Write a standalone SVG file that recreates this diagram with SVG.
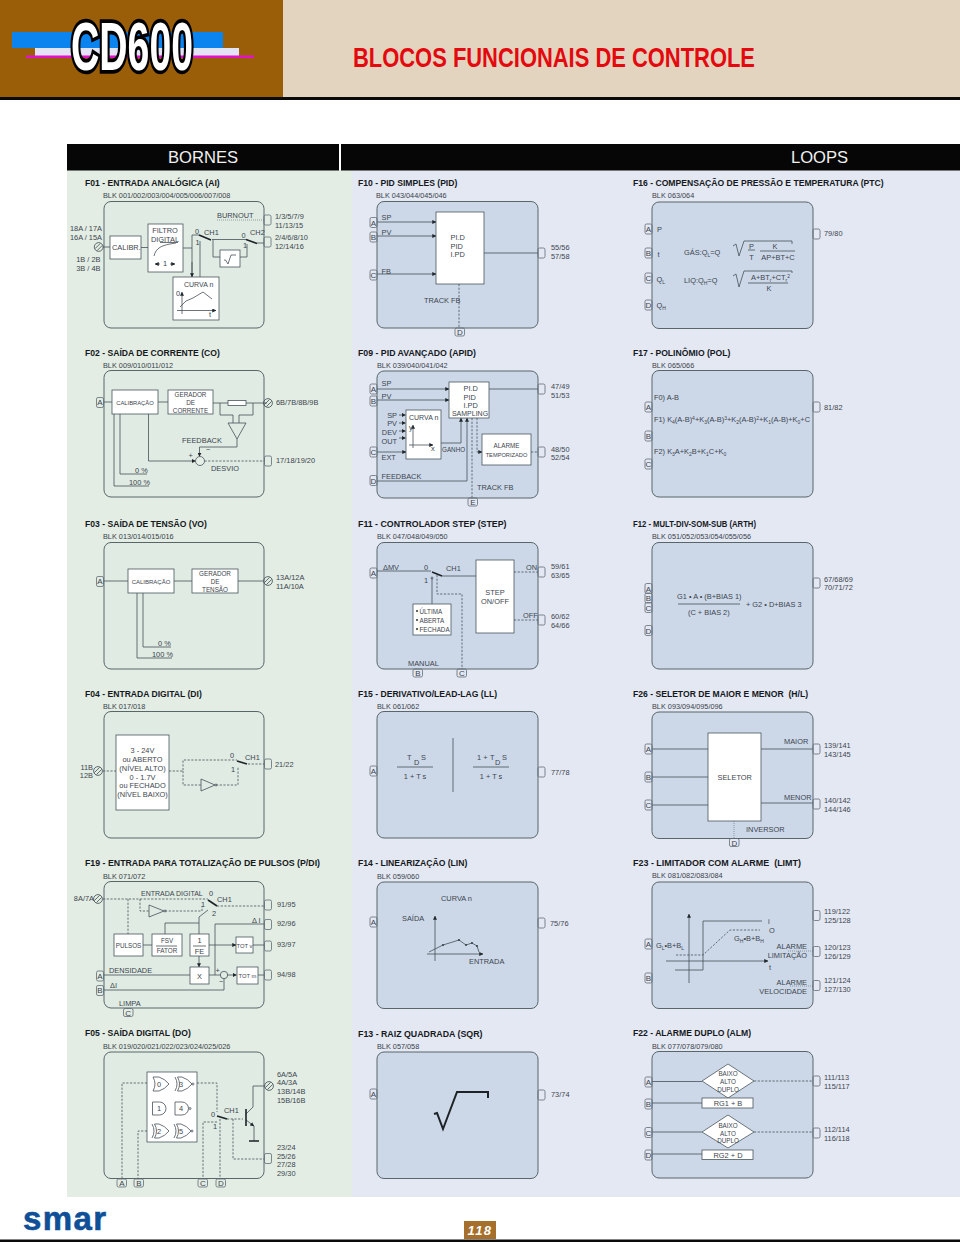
<svg xmlns="http://www.w3.org/2000/svg" width="960" height="1242" viewBox="0 0 960 1242" font-family="'Liberation Sans', Arial, sans-serif">
<style>
text{fill:#3c454e;font-size:7.4px}
.h{fill:#15181c;font-size:8.6px;font-weight:bold;white-space:pre}
.b{fill:#39424a;font-size:7.3px}
.c{text-anchor:middle}
.e{text-anchor:end}
.m{font-size:7px}
.n{font-size:6.3px}
.k{font-size:5.8px}
.p{font-size:8px;text-anchor:middle}
.f{fill:#e0ebe3;stroke:#58666a;stroke-width:1}
.g{fill:#ccd8e8;stroke:#58666a;stroke-width:1}
.w{fill:#fff;stroke:#4a555c;stroke-width:.8}
.l{fill:none;stroke:#465159;stroke-width:.8}
.d{fill:none;stroke:#465159;stroke-width:.8;stroke-dasharray:2.2 1.5}
.o{fill:none;stroke:#5c6870;stroke-width:.6;stroke-dasharray:1 1}
.a{marker-end:url(#arrow)}
.t{fill:none;stroke:#1d2226;stroke-width:1.6}
.port{fill:none;stroke:#5e6b74;stroke-width:.8}
.screw{fill:none;stroke:#3f4a52;stroke-width:.8}
.sub{font-size:5px;baseline-shift:-1.6px}
.sup{font-size:5px;baseline-shift:2.4px}
.dot{fill:#2b3238}
</style>
<defs>
<marker id="arrow" viewBox="0 0 6 6" refX="5.6" refY="3" markerWidth="4" markerHeight="4" markerUnits="userSpaceOnUse" orient="auto"><path d="M0 0L6 3L0 6Z" fill="#1f262c"/></marker>
<rect id="port" width="7" height="10" rx="1.6"/>
<rect id="portv" width="9.5" height="8" rx="1.6"/>
<g id="screw"><circle r="4.4"/><path d="M-3.6 1.6L1.6 -3.6M-1.6 3.6L3.6 -1.6"/></g>
<path id="gor" d="M0 0H6Q12 2 16 7Q12 12 6 14H0Q4 7 0 0Z"/>
<path id="gxor" d="M1.5 0H6Q12 2 16 7Q12 12 6 14H1.5Q5.5 7 1.5 0ZM-1 0Q3 7 -1 14"/>
<path id="gand" d="M0 0H7A6.5 6.5 0 0 1 7 13H0Z"/>
</defs>

<!-- page header -->
<g id="header">
<rect width="283" height="97" fill="#9a5e08"/>
<rect x="283" width="677" height="97" fill="#e3d4bf"/>
<rect y="97" width="960" height="3" fill="#0a0a0a"/>
<rect x="12" y="32" width="211" height="16" fill="#0b84f0"/>
<rect x="35" y="48" width="204" height="8" fill="#e3e3f6"/>
<rect x="26" y="55.5" width="228" height="2.5" fill="#e213c4"/>
<text x="71" y="69.5" textLength="122" lengthAdjust="spacingAndGlyphs" style="font-size:69px;font-weight:bold;fill:#fff;stroke:#000;stroke-width:7.5px;paint-order:stroke">CD600</text>
<text x="353" y="67" textLength="402" lengthAdjust="spacingAndGlyphs" style="font-size:28px;font-weight:bold;fill:#e4080f">BLOCOS FUNCIONAIS DE CONTROLE</text>
</g>

<!-- column backgrounds and titles -->
<g id="columns">
<rect x="67" y="170" width="285" height="1027" fill="#e3ede4"/>
<rect x="352" y="170" width="608" height="1027" fill="#e4e8f3"/>
<rect x="67" y="144" width="272" height="26.5" fill="#060606"/>
<rect x="341" y="144" width="619" height="26.5" fill="#060606"/>
<text x="203" y="163" text-anchor="middle" style="font-size:16.6px;fill:#f0f0f0">BORNES</text>
<text x="819.5" y="163" text-anchor="middle" style="font-size:16.6px;fill:#f0f0f0">LOOPS</text>
</g>

<!-- block frames -->
<g id="frames">
<rect class="f" x="104" y="201.5" width="160" height="126.5" rx="7"/>
<rect class="f" x="104" y="370.5" width="160" height="126.5" rx="7"/>
<rect class="f" x="104" y="542.5" width="160" height="126.5" rx="7"/>
<rect class="f" x="104" y="711.5" width="160" height="126.5" rx="7"/>
<rect class="f" x="104" y="881.5" width="160" height="126.5" rx="7"/>
<rect class="f" x="104" y="1052" width="160" height="126.5" rx="7"/>
<rect class="g" x="377" y="201.5" width="161" height="126.5" rx="7"/>
<rect class="g" x="377" y="371" width="161" height="127" rx="7"/>
<rect class="g" x="377" y="542.5" width="161" height="126.5" rx="7"/>
<rect class="g" x="377" y="711.5" width="161" height="126.5" rx="7"/>
<rect class="g" x="377" y="882" width="161" height="126.5" rx="7"/>
<rect class="g" x="377" y="1052" width="161" height="126.5" rx="7"/>
<rect class="g" x="652" y="202" width="161" height="126.5" rx="7"/>
<rect class="g" x="652" y="370.5" width="161" height="126.5" rx="7"/>
<rect class="g" x="652" y="542.5" width="161" height="126.5" rx="7"/>
<rect class="g" x="652" y="712" width="161" height="126.5" rx="7"/>
<rect class="g" x="652" y="882" width="161" height="126.5" rx="7"/>
<rect class="g" x="652" y="1051.5" width="161" height="126.5" rx="7"/>
</g>

<!-- wiring between the inner blocks -->
<g id="connectors">
<!-- F01 -->
<path class="l" d="M103 247H110M141 247.5H148M183 248H192"/>
<path class="l" d="M192 248V235H199M192 248V277"/>
<path class="l a" d="M192 262V277"/>
<path class="l" d="M200 277V241M212 239.5H246M213 239.5V257H220M240 257H247V244M257 243H264"/>
<path class="o" d="M217 220H264"/>
<path class="t" d="M199 235L211 240M246 239.5L257 243.5"/>
<!-- F02 -->
<path class="l" d="M104 402H112M158 402H168M213 403H228M246 403H267"/>
<path class="l" d="M220 403V415H233V423M253 403V415H239V423M237 439V447H199.5"/>
<path class="l a" d="M199.5 447V456.5"/>
<path class="l a" d="M148.5 414V461H195.5"/>
<path class="d" d="M204.5 461H264"/>
<path class="l" d="M120 414V474H147M114 414V486H149"/>
<!-- F03 -->
<path class="l" d="M104 581H128M174 581H192M238 581H263M143 593V647H171M137 593V658H172"/>
<!-- F04 -->
<path class="d" d="M103 771H116M169 771H183V760H237M183 771V785H201M216 785H238V767M248 764H264"/>
<path class="t" d="M237 761L247 764"/>
<!-- F19 -->
<path class="d" d="M103 899H208M128 899V934M140 899V911H149M165 911H202V906M217 906H264"/>
<path class="t" d="M208 900L217 906"/>
<path class="l" d="M199 917L208 910M199 917V934M165 934V923H199M143 945H152"/>
<path class="l a" d="M209 945H236"/>
<path class="l" d="M253 945H264"/>
<path class="l a" d="M199 956V967"/>
<path class="l" d="M104 975H190M209 975H220.5M104 990H224V978.5"/>
<path class="l a" d="M227.5 975H236.5"/>
<path class="l" d="M258 975H264M215 975V924H264"/>
<!-- F05 -->
<path class="d" d="M147 1083H122V1179M147 1131H138V1179M197 1083H217V1112M217 1122H203V1179M220 1119V1179M227 1119H243M233 1119V1159H264"/>
<path class="t" d="M217 1116L227 1119"/>
<path class="l" d="M246 1114L253 1107V1086H264.5"/>
<path class="l a" d="M246 1120L254 1126"/>
<path class="l" d="M254 1126V1141"/>
<path class="t" d="M246 1109V1126M249 1141H259"/>
<!-- F10 -->
<path class="l a" d="M377 222H436"/>
<path class="l a" d="M377 236H436"/>
<path class="l a" d="M377 274H436"/>
<path class="l" d="M484 253H538"/>
<path class="d" d="M459 284V328"/>
<!-- F09 -->
<path class="l a" d="M377 389H449"/>
<path class="l a" d="M377 400H449"/>
<path class="l" d="M489 389H538"/>
<path class="l a" d="M399 415H405.5"/>
<path class="l a" d="M399 423H405.5"/>
<path class="l a" d="M399 431H405.5"/>
<path class="l a" d="M399 438H405.5"/>
<path class="l a" d="M377 452H406"/>
<path class="l a" d="M441 443H461V418"/>
<path class="l a" d="M377 481H467V418"/>
<path class="d" d="M472 418V498M531 452H538"/>
<path class="d a" d="M477 418V452H482"/>
<!-- F11 -->
<path class="l" d="M377 571H431M442 576H477M432 578V604"/>
<path class="t" d="M432 572L442 576"/>
<path class="d" d="M437 575V594H462V669M514 572H538M514 620H538"/>
<!-- F26 -->
<path class="l" d="M652 749H708M652 777H708M652 805H708M761 749H813M761 803H813"/>
<path class="o" d="M734 821V838"/>
<!-- F23 -->
<path class="o" d="M788 951H813M790 986H813"/>
<!-- F22 -->
<path class="l" d="M652 1081.5H702M652 1103H702M652 1132H702M652 1154H702"/>
<path class="d" d="M754 1081H813M754 1132H813"/>
</g>

<g id="F01">
<text class="h" x="85" y="186">F01 - ENTRADA ANALÓGICA (AI)</text>
<text class="b" x="103" y="197.6">BLK 001/002/003/004/005/006/007/008</text>
<text class="e" x="102" y="231">18A / 17A</text>
<text class="e" x="102" y="239.5">16A / 15A</text>
<use href="#screw" class="screw" x="98.7" y="247"/>
<text class="e" x="100.5" y="262">1B / 2B</text>
<text class="e" x="100.5" y="271">3B / 4B</text>
<rect class="w" x="110" y="236" width="31" height="23"/>
<text x="112" y="250">CALIBR.</text>
<rect class="w" x="148" y="224" width="35" height="48"/>
<text class="c" x="165" y="232.5">FILTRO</text>
<text class="c" x="165" y="241.5">DIGITAL</text>
<path class="l" d="M154 256C156 248 161 245 176 243M160 242.5H178"/>
<path class="l a" d="M160 264H155"/>
<path class="l a" d="M170 264H175"/>
<text class="c" x="165" y="266">1</text>
<text x="195" y="233.5">0</text>
<text x="195.5" y="245">1</text>
<text x="204" y="235">CH1</text>
<text x="241.5" y="237.5">0</text>
<text x="243" y="247.5">1</text>
<text x="250" y="235">CH2</text>
<rect class="w" x="220" y="250" width="20" height="17"/>
<path class="l" d="M224 260H225.5L228 264L231 255H236"/>
<text x="217" y="217.5">BURNOUT</text>
<use href="#port" class="port" x="264" y="215"/>
<use href="#port" class="port" x="264" y="237"/>
<text x="275" y="218.5">1/3/5/7/9</text>
<text x="275" y="227.5">11/13/15</text>
<text x="275" y="239.5">2/4/6/8/10</text>
<text x="275" y="248.5">12/14/16</text>
<rect class="w" x="173" y="277" width="46" height="43"/>
<text class="m" x="184" y="286.5">CURVA n</text>
<text x="176" y="296">0</text>
<path class="l a" d="M182 314V292"/>
<path class="l a" d="M177 310.5H216"/>
<path class="l" d="M180 307L186 301L193 298L203 292L212 299"/>
<text x="209" y="316.5">t</text>
</g>

<g id="F02">
<text class="h" x="85" y="356">F02 - SAÍDA DE CORRENTE (CO)</text>
<text class="b" x="103" y="368">BLK 009/010/011/012</text>
<use href="#port" class="port" x="96.5" y="397.5"/>
<text class="p" x="100" y="405">A</text>
<rect class="w" x="112" y="390" width="46" height="24"/>
<text class="c k" x="135" y="404.5">CALIBRAÇÃO</text>
<rect class="w" x="168" y="390" width="45" height="24"/>
<text class="c n" x="190.5" y="397">GERADOR</text>
<text class="c n" x="190.5" y="405">DE</text>
<text class="c n" x="190.5" y="413">CORRENTE</text>
<rect class="w" x="228" y="400.5" width="18" height="5"/>
<path class="l" d="M228 423H246L237 439Z"/>
<circle class="w" cx="200" cy="461" r="4.5" style="fill:#e6efe8"/>
<text x="182" y="442.5">FEEDBACK</text>
<text x="206" y="452">−</text>
<text x="188.5" y="458">+</text>
<text x="211" y="470.5">DESVIO</text>
<text x="135" y="472.5">0 %</text>
<text x="129" y="484.5">100 %</text>
<use href="#screw" class="screw" x="268" y="403"/>
<text x="276" y="405">6B/7B/8B/9B</text>
<use href="#port" class="port" x="264.5" y="456"/>
<text x="276" y="463">17/18/19/20</text>
</g>

<g id="F03">
<text class="h" x="85" y="527">F03 - SAÍDA DE TENSÃO (VO)</text>
<text class="b" x="103" y="539">BLK 013/014/015/016</text>
<use href="#port" class="port" x="96.5" y="576.5"/>
<text class="p" x="100" y="584">A</text>
<rect class="w" x="128" y="569" width="46" height="24"/>
<text class="c" style="font-size:6px" x="151" y="583.5">CALIBRAÇÃO</text>
<rect class="w" x="192" y="569" width="46" height="24"/>
<text class="c n" x="215" y="576">GERADOR</text>
<text class="c n" x="215" y="584">DE</text>
<text class="c n" x="215" y="592">TENSÃO</text>
<use href="#screw" class="screw" x="268" y="581"/>
<text x="276" y="579.5">13A/12A</text>
<text x="276" y="588.5">11A/10A</text>
<text x="158" y="646">0 %</text>
<text x="152" y="657">100 %</text>
</g>

<g id="F04">
<text class="h" x="85" y="697">F04 - ENTRADA DIGITAL (DI)</text>
<text class="b" x="103" y="708.6">BLK 017/018</text>
<use href="#screw" class="screw" x="98" y="771"/>
<text class="e" x="93" y="770">11B</text>
<text class="e" x="93" y="778">12B</text>
<rect class="w" x="116" y="735" width="53" height="75"/>
<text class="c" x="142.5" y="752.5">3 - 24V</text>
<text class="c" x="142.5" y="761.5">ou ABERTO</text>
<text class="c" x="142.5" y="770.5">(NÍVEL ALTO)</text>
<text class="c" x="142.5" y="779.5">0 - 1.7V</text>
<text class="c" x="142.5" y="788">ou FECHADO</text>
<text class="c" x="142.5" y="797">(NÍVEL BAIXO)</text>
<path class="l" d="M201 779V791L215 785Z"/>
<circle class="l" cx="216" cy="785" r="1"/>
<text x="230" y="758">0</text>
<text x="231" y="772">1</text>
<text x="245" y="759.5">CH1</text>
<use href="#port" class="port" x="264.5" y="759"/>
<text x="275" y="767">21/22</text>
</g>

<g id="F19">
<text class="h" x="85" y="866" textLength="235" lengthAdjust="spacingAndGlyphs">F19 - ENTRADA PARA TOTALIZAÇÃO DE PULSOS (P/DI)</text>
<text class="b" x="103" y="878.6">BLK 071/072</text>
<use href="#screw" class="screw" x="98" y="899"/>
<text class="e" x="94" y="901">8A/7A</text>
<text class="m" x="141" y="895.5">ENTRADA DIGITAL</text>
<text x="209" y="896">0</text>
<text x="201" y="906.5">1</text>
<text x="212" y="916">2</text>
<text x="217" y="901.5">CH1</text>
<path class="l" d="M149 905V917L164 911Z"/>
<circle class="l" cx="165" cy="911" r="1"/>
<rect class="w" x="114" y="934" width="29" height="22"/>
<text class="c n" x="128.5" y="948">PULSOS</text>
<rect class="w" x="152" y="934" width="30" height="22"/>
<text class="c n" x="167" y="943">FSV</text>
<path class="l" d="M156 946H177"/>
<text class="c n" x="167" y="953">FATOR</text>
<rect class="w" x="190" y="934" width="19" height="22"/>
<text class="c" x="199.5" y="943">1</text>
<path class="l" d="M193 946H206"/>
<text class="c" x="199.5" y="954">FE</text>
<rect class="w" x="236" y="937" width="17" height="16"/>
<text class="c k" x="244.5" y="947.5">TOT v</text>
<rect class="w" x="190" y="967" width="19" height="17"/>
<text class="c" x="199.5" y="978.5">X</text>
<circle class="l" cx="224" cy="975" r="3.7"/>
<text x="215.5" y="973">+</text>
<text x="219" y="984">−</text>
<rect class="w" x="237" y="967" width="21" height="17"/>
<text class="c k" x="247.5" y="977.5">TOT m</text>
<use href="#port" class="port" x="264.5" y="900"/>
<use href="#port" class="port" x="264.5" y="919.5"/>
<use href="#port" class="port" x="264.5" y="941"/>
<use href="#port" class="port" x="264.5" y="970"/>
<text x="277" y="907">91/95</text>
<text x="277" y="926">92/96</text>
<text x="277" y="947">93/97</text>
<text x="277" y="977">94/98</text>
<text x="252" y="923">Δ I</text>
<text x="109" y="972.5">DENSIDADE</text>
<text x="110" y="987.5">ΔI</text>
<text x="119" y="1005.5">LIMPA</text>
<use href="#port" class="port" x="96.5" y="971"/>
<text class="p" x="100" y="978.5">A</text>
<use href="#port" class="port" x="96.5" y="985.5"/>
<text class="p" x="100" y="993">B</text>
<use href="#portv" class="port" x="123.5" y="1008.5"/>
<text class="p" x="128.2" y="1015.5">C</text>
</g>

<g id="F05">
<text class="h" x="85" y="1036">F05 - SAÍDA DIGITAL (DO)</text>
<text class="b" x="103" y="1048.6">BLK 019/020/021/022/023/024/025/026</text>
<rect class="w" x="147" y="1072" width="50" height="70"/>
<use href="#gor" class="l" x="153" y="1077"/>
<text class="c" x="159" y="1086.5">0</text>
<use href="#gxor" class="l" x="176" y="1077"/>
<circle class="l" cx="193" cy="1084" r="1"/>
<text class="c" x="181" y="1086.5">3</text>
<use href="#gand" class="l" x="152.5" y="1102"/>
<text class="c" x="159" y="1111">1</text>
<use href="#gand" class="l" x="175" y="1102"/>
<circle class="l" cx="190" cy="1108.5" r="1"/>
<text class="c" x="181" y="1111">4</text>
<use href="#gxor" class="l" x="153" y="1124"/>
<text class="c" x="159" y="1133.5">2</text>
<use href="#gxor" class="l" x="175" y="1124"/>
<circle class="l" cx="192" cy="1131" r="1"/>
<text class="c" x="181" y="1133.5">5</text>
<text x="211" y="1117">0</text>
<text x="213" y="1129">1</text>
<text x="224" y="1113">CH1</text>
<use href="#screw" class="screw" x="269" y="1086"/>
<use href="#port" class="port" x="264.5" y="1153.5"/>
<text x="277" y="1076.5">6A/5A</text>
<text x="277" y="1085">4A/3A</text>
<text x="277" y="1094">13B/14B</text>
<text x="277" y="1102.5">15B/16B</text>
<text x="277" y="1149.5">23/24</text>
<text x="277" y="1158.5">25/26</text>
<text x="277" y="1167">27/28</text>
<text x="277" y="1175.5">29/30</text>
<use href="#portv" class="port" x="117" y="1179"/>
<text class="p" x="121.8" y="1186">A</text>
<use href="#portv" class="port" x="134" y="1179"/>
<text class="p" x="138.8" y="1186">B</text>
<use href="#portv" class="port" x="198" y="1179"/>
<text class="p" x="202.8" y="1186">C</text>
<use href="#portv" class="port" x="216" y="1179"/>
<text class="p" x="220.8" y="1186">D</text>
</g>

<g id="F10">
<text class="h" x="358" y="186">F10 - PID SIMPLES (PID)</text>
<text class="b" x="376" y="198">BLK 043/044/045/046</text>
<use href="#port" class="port" x="370" y="217.5"/>
<text class="p" x="373.5" y="225.5">A</text>
<use href="#port" class="port" x="370" y="232"/>
<text class="p" x="373.5" y="240">B</text>
<use href="#port" class="port" x="370" y="270"/>
<text class="p" x="373.5" y="278">C</text>
<text x="381.5" y="220">SP</text>
<text x="381.5" y="234.5">PV</text>
<text x="381.5" y="273.5">FB</text>
<rect class="w" x="436" y="212" width="48" height="72"/>
<text x="450.5" y="239.5">PI.D</text>
<text x="450.5" y="248.5">PID</text>
<text x="450.5" y="257">I.PD</text>
<text x="424" y="303">TRACK FB</text>
<use href="#port" class="port" x="538" y="248"/>
<text x="551" y="250">55/56</text>
<text x="551" y="258.5">57/58</text>
<use href="#portv" class="port" x="455" y="328"/>
<text class="p" x="459.8" y="335">D</text>
</g>

<g id="F09">
<text class="h" x="358" y="356" textLength="118" lengthAdjust="spacingAndGlyphs">F09 - PID AVANÇADO (APID)</text>
<text class="b" x="377" y="368">BLK 039/040/041/042</text>
<use href="#port" class="port" x="370" y="384"/>
<text class="p" x="373.5" y="392">A</text>
<use href="#port" class="port" x="370" y="396"/>
<text class="p" x="373.5" y="404">B</text>
<use href="#port" class="port" x="370" y="447"/>
<text class="p" x="373.5" y="455">C</text>
<use href="#port" class="port" x="370" y="475.5"/>
<text class="p" x="373.5" y="483.5">D</text>
<text x="381.5" y="386">SP</text>
<text x="381.5" y="399">PV</text>
<text x="381.5" y="460">EXT</text>
<text x="381.5" y="478.6">FEEDBACK</text>
<rect class="w" x="449" y="382" width="40" height="36"/>
<text x="463.5" y="390.5">PI.D</text>
<text x="463.5" y="399.5">PID</text>
<text x="463.5" y="408">I.PD</text>
<text class="c m" x="470" y="415.5">SAMPLING</text>
<rect class="w" x="406" y="410" width="35" height="49"/>
<text class="m" x="409" y="419.5">CURVA n</text>
<text class="e" x="397" y="418">SP</text>
<text class="e" x="397" y="426">PV</text>
<text class="e" x="397" y="434.6">DEV</text>
<text class="e" x="397" y="444">OUT</text>
<path class="l a" d="M413 448V425"/>
<path class="l a" d="M409 445H433"/>
<text x="409" y="430">y</text>
<text x="431" y="451">x</text>
<text class="n" x="442" y="451.6">GANHO</text>
<rect class="w" x="482" y="434" width="49" height="31"/>
<text class="c n" x="506.5" y="447.5">ALARME</text>
<text class="c" style="font-size:5.7px" x="506.5" y="456.5">TEMPORIZADO</text>
<text x="477" y="489.6">TRACK FB</text>
<use href="#port" class="port" x="538" y="384"/>
<use href="#port" class="port" x="538" y="447"/>
<text x="551" y="388.5">47/49</text>
<text x="551" y="397.5">51/53</text>
<text x="551" y="451.5">48/50</text>
<text x="551" y="460">52/54</text>
<use href="#portv" class="port" x="468" y="498"/>
<text class="p" x="472.8" y="505">E</text>
</g>

<g id="F11">
<text class="h" x="358" y="527" textLength="148.5" lengthAdjust="spacingAndGlyphs">F11 - CONTROLADOR STEP (STEP)</text>
<text class="b" x="377" y="539">BLK 047/048/049/050</text>
<use href="#port" class="port" x="370" y="568"/>
<text class="p" x="373.5" y="576">A</text>
<text x="383" y="570">ΔMV</text>
<text x="424" y="570">0</text>
<text x="424" y="583">1</text>
<text x="446" y="571">CH1</text>
<circle class="l" cx="432" cy="578" r="1"/>
<rect class="w" x="413" y="604" width="38" height="31"/>
<circle class="dot" cx="417" cy="611" r="1"/>
<circle class="dot" cx="417" cy="620" r="1"/>
<circle class="dot" cx="417" cy="629" r="1"/>
<text class="n" x="419.5" y="613.5">ÚLTIMA</text>
<text class="n" x="419.5" y="622.5">ABERTA</text>
<text class="n" x="419.5" y="631.5">FECHADA</text>
<rect class="w" x="476" y="560" width="38" height="73"/>
<text class="c" x="495" y="594.5">STEP</text>
<text class="c" x="495" y="603.5">ON/OFF</text>
<text x="526" y="570">ON</text>
<text x="523" y="618">OFF</text>
<text x="408" y="666">MANUAL</text>
<use href="#portv" class="port" x="413" y="669"/>
<text class="p" x="417.8" y="676">B</text>
<use href="#portv" class="port" x="457" y="669"/>
<text class="p" x="461.8" y="676">C</text>
<use href="#port" class="port" x="538" y="567"/>
<use href="#port" class="port" x="538" y="615"/>
<text x="551" y="568.6">59/61</text>
<text x="551" y="577.6">63/65</text>
<text x="551" y="618.6">60/62</text>
<text x="551" y="627.6">64/66</text>
</g>

<g id="F15">
<text class="h" x="358" y="697">F15 - DERIVATIVO/LEAD-LAG (LL)</text>
<text class="b" x="377" y="708.6">BLK 061/062</text>
<use href="#port" class="port" x="370" y="766"/>
<text class="p" x="373.5" y="774">A</text>
<text x="407" y="760">T</text>
<text x="414" y="765">D</text>
<text x="421" y="760">S</text>
<path class="l" d="M397 767H433"/>
<text class="c" x="415" y="778.5">1 + T s</text>
<path class="l" d="M453 738V792"/>
<text x="477" y="760">1 +</text>
<text x="490" y="760">T</text>
<text x="495" y="765">D</text>
<text x="502" y="760">S</text>
<path class="l" d="M473 767H509"/>
<text class="c" x="491" y="778.5">1 + T s</text>
<use href="#port" class="port" x="538" y="767"/>
<text x="551" y="774.6">77/78</text>
</g>

<g id="F14">
<text class="h" x="358" y="866">F14 - LINEARIZAÇÃO (LIN)</text>
<text class="b" x="377" y="878.6">BLK 059/060</text>
<use href="#port" class="port" x="370" y="917"/>
<text class="p" x="373.5" y="925">A</text>
<text x="441" y="900.5">CURVA n</text>
<text x="402" y="920.5">SAÍDA</text>
<path class="l a" d="M435 961V916"/>
<path class="l a" d="M427 954H483"/>
<path class="l" d="M429 952L443 945L459 940L466 945L472 943L477 946L479 952"/>
<circle class="dot" cx="443" cy="945" r=".9"/>
<circle class="dot" cx="459" cy="940" r=".9"/>
<circle class="dot" cx="466" cy="945" r=".9"/>
<circle class="dot" cx="472" cy="943" r=".9"/>
<circle class="dot" cx="477" cy="946" r=".9"/>
<circle class="dot" cx="481" cy="954" r=".9"/>
<text x="469" y="964">ENTRADA</text>
<use href="#port" class="port" x="538" y="918"/>
<text x="550" y="925.6">75/76</text>
</g>

<g id="F13">
<text class="h" x="358" y="1037" textLength="124.5" lengthAdjust="spacingAndGlyphs">F13 - RAIZ QUADRADA (SQR)</text>
<text class="b" x="377" y="1048.6">BLK 057/058</text>
<use href="#port" class="port" x="370" y="1089"/>
<text class="p" x="373.5" y="1097">A</text>
<path d="M434 1114L437 1113L443 1129L457 1092H488V1098" fill="none" stroke="#1d2226" stroke-width="2"/>
<use href="#port" class="port" x="538" y="1090"/>
<text x="551" y="1096.6">73/74</text>
</g>

<g id="F16">
<text class="h" x="633" y="186">F16 - COMPENSAÇÃO DE PRESSÃO E TEMPERATURA (PTC)</text>
<text class="b" x="652" y="198">BLK 063/064</text>
<use href="#port" class="port" x="645" y="224"/>
<text class="p" x="648.5" y="232">A</text>
<use href="#port" class="port" x="645" y="248"/>
<text class="p" x="648.5" y="256">B</text>
<use href="#port" class="port" x="645" y="273"/>
<text class="p" x="648.5" y="281">C</text>
<use href="#port" class="port" x="645" y="300"/>
<text class="p" x="648.5" y="308">D</text>
<text x="657" y="232">P</text>
<text x="657.5" y="257">t</text>
<text x="656.5" y="282">Q<tspan class="sub">L</tspan></text>
<text x="656.5" y="308">Q<tspan class="sub">H</tspan></text>
<text x="684" y="254.6">GÁS:Q<tspan class="sub">L</tspan>=Q</text>
<path class="l" d="M733 246L736 244L739 256L744 241H792V244"/>
<text class="c" x="751.5" y="249">P</text>
<path class="l" d="M748 250H755"/>
<text class="c" x="751.5" y="259.6">T</text>
<text class="c" x="775" y="249">K</text>
<path class="l" d="M760 251H795"/>
<text class="c" x="778" y="259.6">AP+BT+C</text>
<text x="684" y="282.6">LIQ:Q<tspan class="sub">H</tspan>=Q</text>
<path class="l" d="M733 276L736 274L739 287L744 271H792V273"/>
<text x="751" y="279.5">A+BT<tspan class="sub">r</tspan>+CT<tspan class="sub">r</tspan><tspan class="sup">2</tspan></text>
<path class="l" d="M748 283H788"/>
<text class="c" x="769" y="290.6">K</text>
<use href="#port" class="port" x="813" y="229"/>
<text x="824" y="236">79/80</text>
</g>

<g id="F17">
<text class="h" x="633" y="356">F17 - POLINÔMIO (POL)</text>
<text class="b" x="652" y="368">BLK 065/066</text>
<use href="#port" class="port" x="645" y="402"/>
<text class="p" x="648.5" y="410">A</text>
<use href="#port" class="port" x="645" y="431"/>
<text class="p" x="648.5" y="439">B</text>
<use href="#port" class="port" x="645" y="459"/>
<text class="p" x="648.5" y="467">C</text>
<text x="654" y="399.6">F0) A-B</text>
<text x="654" y="421.5">F1) K<tspan class="sub">4</tspan>(A-B)<tspan class="sup">4</tspan>+K<tspan class="sub">3</tspan>(A-B)<tspan class="sup">3</tspan>+K<tspan class="sub">2</tspan>(A-B)<tspan class="sup">2</tspan>+K<tspan class="sub">1</tspan>(A-B)+K<tspan class="sub">0</tspan>+C</text>
<text x="654" y="453.5">F2) K<tspan class="sub">3</tspan>A+K<tspan class="sub">2</tspan>B+K<tspan class="sub">1</tspan>C+K<tspan class="sub">0</tspan></text>
<use href="#port" class="port" x="813" y="402"/>
<text x="824" y="409.6">81/82</text>
</g>

<g id="F12">
<text class="h" x="633" y="527" textLength="123" lengthAdjust="spacingAndGlyphs">F12 - MULT-DIV-SOM-SUB (ARTH)</text>
<text class="b" x="652" y="539">BLK 051/052/053/054/055/056</text>
<use href="#port" class="port" x="645" y="583.5"/>
<text class="p" x="648.5" y="591.5">A</text>
<use href="#port" class="port" x="645" y="593"/>
<text class="p" x="648.5" y="600.5">B</text>
<use href="#port" class="port" x="645" y="602.5"/>
<text class="p" x="648.5" y="610.5">C</text>
<use href="#port" class="port" x="645" y="625.5"/>
<text class="p" x="648.5" y="633.5">D</text>
<text x="677" y="598.5">G1 • A • (B+BIAS 1)</text>
<path class="l" d="M678 604H740"/>
<text x="688" y="614.5">(C + BIAS 2)</text>
<text x="746" y="606.5">+ G2 • D+BIAS 3</text>
<use href="#port" class="port" x="813" y="578"/>
<text x="824" y="581.5">67/68/69</text>
<text x="824" y="590">70/71/72</text>
</g>

<g id="F26">
<text class="h" x="633" y="697" textLength="175" lengthAdjust="spacingAndGlyphs">F26 - SELETOR DE MAIOR E MENOR  (H/L)</text>
<text class="b" x="652" y="708.6">BLK 093/094/095/096</text>
<use href="#port" class="port" x="645" y="744"/>
<text class="p" x="648.5" y="752">A</text>
<use href="#port" class="port" x="645" y="772"/>
<text class="p" x="648.5" y="780">B</text>
<use href="#port" class="port" x="645" y="800"/>
<text class="p" x="648.5" y="808">C</text>
<rect class="w" x="708" y="733" width="53" height="88"/>
<text class="c" x="734.7" y="779.6">SELETOR</text>
<text x="784" y="743.6">MAIOR</text>
<text x="784" y="799.6">MENOR</text>
<text x="746" y="832">INVERSOR</text>
<use href="#portv" class="port" x="729.5" y="838.5"/>
<text class="p" x="734.3" y="845.5">D</text>
<use href="#port" class="port" x="813" y="744"/>
<use href="#port" class="port" x="813" y="799"/>
<text x="824" y="747.6">139/141</text>
<text x="824" y="756.6">143/145</text>
<text x="824" y="802.6">140/142</text>
<text x="824" y="811.6">144/146</text>
</g>

<g id="F23">
<text class="h" x="633" y="866" textLength="168" lengthAdjust="spacingAndGlyphs">F23 - LIMITADOR COM ALARME  (LIMT)</text>
<text class="b" x="652" y="878">BLK 081/082/083/084</text>
<use href="#port" class="port" x="645" y="939"/>
<text class="p" x="648.5" y="947">A</text>
<use href="#port" class="port" x="645" y="973"/>
<text class="p" x="648.5" y="981">B</text>
<path class="l a" d="M689 983V914"/>
<path class="l a" d="M666 961H768"/>
<path class="l" d="M675 970H703V921H762"/>
<path class="d" d="M676 955H703L730 930H760"/>
<text x="768" y="923.6">i</text>
<text x="769" y="933">O</text>
<text x="769" y="969.5">t</text>
<text x="656" y="947.6">G<tspan class="sub">L</tspan>•B+B<tspan class="sub">L</tspan></text>
<text x="734" y="940.6">G<tspan class="sub">H</tspan>•B+B<tspan class="sub">H</tspan></text>
<text class="e" x="807" y="948.6">ALARME</text>
<text class="e" x="807" y="957.6">LIMITAÇÃO</text>
<text class="e" x="807" y="985">ALARME</text>
<text class="e" x="807" y="993.6">VELOCIDADE</text>
<use href="#port" class="port" x="813" y="910.5"/>
<use href="#port" class="port" x="813" y="946.5"/>
<use href="#port" class="port" x="813" y="980.5"/>
<text x="824" y="913.6">119/122</text>
<text x="824" y="922.6">125/128</text>
<text x="824" y="949.6">120/123</text>
<text x="824" y="958.6">126/129</text>
<text x="824" y="982.6">121/124</text>
<text x="824" y="991.6">127/130</text>
</g>

<g id="F22">
<text class="h" x="633" y="1036">F22 - ALARME DUPLO (ALM)</text>
<text class="b" x="652" y="1048.6">BLK 077/078/079/080</text>
<use href="#port" class="port" x="645" y="1077"/>
<text class="p" x="648.5" y="1085">A</text>
<use href="#port" class="port" x="645" y="1099"/>
<text class="p" x="648.5" y="1107">B</text>
<use href="#port" class="port" x="645" y="1127.5"/>
<text class="p" x="648.5" y="1135.5">C</text>
<use href="#port" class="port" x="645" y="1150"/>
<text class="p" x="648.5" y="1158">D</text>
<path class="w" d="M728 1064L754 1081L728 1098L702 1081Z"/>
<text class="c n" x="728" y="1075.5">BAIXO</text>
<text class="c n" x="728" y="1084">ALTO</text>
<text class="c n" x="728" y="1092">DUPLO</text>
<rect class="w" x="702" y="1098" width="51" height="10"/>
<text class="c" x="728" y="1105.5">RG1 + B</text>
<path class="w" d="M728 1115L754 1132L728 1148L702 1132Z"/>
<text class="c n" x="728" y="1127.5">BAIXO</text>
<text class="c n" x="728" y="1135.5">ALTO</text>
<text class="c n" x="728" y="1143">DUPLO</text>
<rect class="w" x="702" y="1150" width="51" height="9.5"/>
<text class="c" x="728" y="1157.5">RG2 + D</text>
<use href="#port" class="port" x="813" y="1076"/>
<use href="#port" class="port" x="813" y="1128"/>
<text x="824" y="1079.6">111/113</text>
<text x="824" y="1088.6">115/117</text>
<text x="824" y="1131.6">112/114</text>
<text x="824" y="1140.6">116/118</text>
</g>

<!-- page footer -->
<g id="footer">
<text x="23" y="1230" textLength="83" style="font-size:33px;font-weight:bold;fill:#0f4f98;stroke:#0f4f98;stroke-width:.6px">smar</text>
<rect x="464" y="1221" width="32" height="18" fill="#a66f2b"/>
<text x="480" y="1235" text-anchor="middle" style="font-size:13px;font-weight:bold;font-style:italic;letter-spacing:1.5px;fill:#fff">118</text>
<rect y="1239.5" width="960" height="2.5" fill="#0a0a0a"/>
</g>
</svg>
